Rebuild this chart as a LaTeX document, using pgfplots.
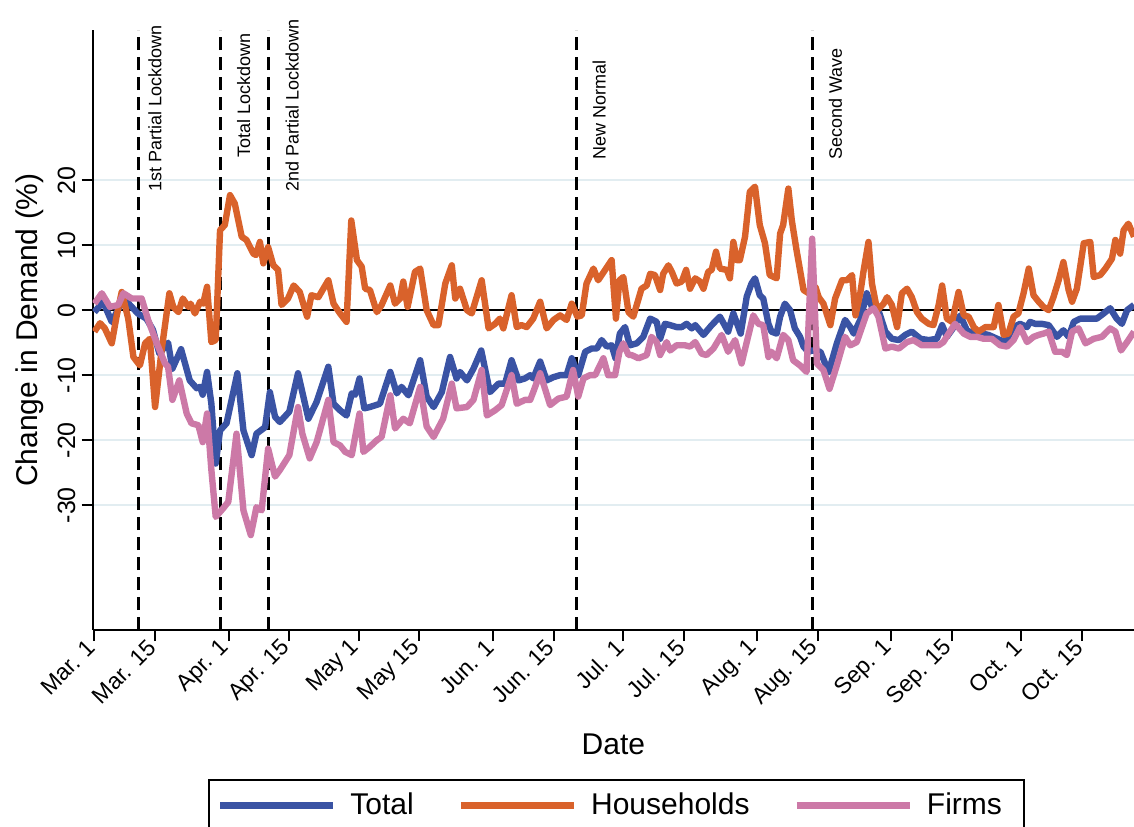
\documentclass[border=0pt]{standalone}
\usepackage{fontspec}
\setmainfont{Liberation Sans}
\usepackage{pgfplots}
\pgfplotsset{compat=1.18}
\definecolor{cTot}{RGB}{58,83,164}
\definecolor{cHH}{RGB}{217,98,43}
\definecolor{cFi}{RGB}{204,121,167}
\definecolor{cGrid}{RGB}{226,237,241}

\pgfplotstableread{
x y
0 -0.3
2 1.3
4 -1.8
6 0.8
7.5 1.3
10 -0.5
12 -1.3
13.5 -3
15 -6.7
17 -5
18 -9
20 -6
22 -10.8
23.6 -12
24.4 -11.8
25 -13
26 -9.5
27 -14.4
28 -23.6
29 -18.5
30.5 -17.4
33 -9.7
34.4 -18.5
36.3 -22.3
37.4 -19
39.4 -18
40.5 -12.6
41.7 -16.4
42.8 -17.2
45 -15.6
47 -9.7
49.4 -16.7
51.3 -14.1
54 -8.7
55.2 -14.4
56.7 -15.4
58.2 -16.2
59.4 -12.8
60.2 -13
61.2 -10.5
62.3 -15.1
63.6 -14.9
65.9 -14.4
68.3 -9.5
69.8 -12.8
70.9 -11.8
72.5 -13.1
75.2 -7.7
76.7 -13.3
78.3 -14.9
80.2 -12.6
82.1 -7.2
83.6 -10.5
84.4 -9.5
86 -10.8
87.5 -9
89.3 -6.2
91.3 -12.6
93.3 -11.3
94.8 -11.3
96.3 -7.7
97.9 -10.8
99.4 -10.5
100.6 -10
101.3 -10.5
102.9 -7.9
104.4 -10.8
106 -10.3
107.5 -10
109 -10
110.2 -7.4
111.7 -10
113.3 -6.4
114.8 -5.9
116 -5.9
117.1 -4.6
118.3 -5.6
119.4 -5.4
120.3 -7.4
121.3 -3.6
122.5 -2.6
123.6 -5.4
125.2 -5.1
126.7 -4.1
128.3 -1.3
129.8 -1.8
130.6 -4.4
131.7 -2.1
132.9 -2.3
134.4 -2.6
135.6 -2.6
136.7 -2.1
137.9 -2.8
138.7 -2.3
140.6 -3.8
142.5 -2.3
144.4 -1
146.3 -3.3
147.5 -0.5
149.2 -3.6
150.6 2.1
151.7 4.1
152.5 4.9
153.6 2.3
154.4 1.8
155.6 -2.1
156.3 -3.3
157.5 -3.6
158.3 -1
159.4 1
160.6 0
161.7 -2.8
162.9 -4.1
163.7 -5.6
164.8 -6.4
165.7 -6.2
167.6 -6.4
169.5 -9.5
171.4 -5.1
173.3 -1.5
174.5 -2.6
175.3 -3.6
176.8 -1.5
178.3 2.6
179.5 0.5
181.0 0
182.6 -3.3
184.1 -4.4
185.7 -4.6
187.2 -3.8
188.7 -3.3
190.7 -4.4
192.6 -4.6
194.5 -4.4
195.7 -2.3
196.8 -4.1
198.4 -2.6
199.9 -0.8
201.4 -3.1
203 -3.6
204.9 -3.6
206.4 -3.8
208.4 -4.4
210.3 -4.9
212.2 -2.6
213.7 -2.1
215.3 -2.6
216.0 -1.8
217.2 -2.1
218.7 -2.1
220.3 -2.3
222.2 -4.1
223.7 -3.1
224.9 -4.1
226.1 -1.8
227.6 -1.3
229.9 -1.3
231.4 -1.3
233 -0.5
234.5 0.3
236.0 -1.3
237.2 -2.1
238.4 0
240 0.8
}\totaltab

\pgfplotstableread{
x y
0 -3.3
1.3 -2
2.4 -2.8
4 -5.1
5.1 -1
6.3 2.8
7.8 -1.3
9 -7.2
10.5 -8.5
11.7 -5.1
12.8 -4.4
14 -14.9
15.5 -6.2
17.3 2.6
18.2 0.5
19.4 -0.3
20.4 1.8
21.7 0.5
22.2 1
23.2 -0.5
24.4 1.3
25.1 1
26 3.6
27 -4.9
28 -4.6
29 12.3
30.1 13.1
31.3 17.7
32.4 16.4
34 11.3
35.1 10.8
36.7 8.7
37.3 8.5
38.2 10.5
39 7.2
40.1 9.7
41.3 6.9
42.4 6.2
43.2 0.8
44.7 1.8
46 3.8
47.4 2.8
49.1 -1
50.1 2.3
51.7 2
54 4.6
55.2 1
56.7 -0.5
58.2 -1.8
59.3 13.8
60.6 7.7
61.7 6.7
62.5 3.3
63.6 3.1
65.2 -0.3
66.3 0.8
68.3 3.8
69.4 1
70.6 1.8
71.3 4.4
72.3 0.5
74 5.9
75.2 6.4
76.7 0
78.3 -2.3
79.4 -2.3
81 4.1
82.5 6.9
83.3 1.8
84.4 3.3
86 0
87.1 -0.5
89.4 4.6
91 -2.8
92.5 -2.1
93.6 -1.3
94.4 -2.8
96.3 2.3
97.5 -2.6
98.6 -2.3
99.8 -2.6
101.3 -1.3
102.9 1.3
104.4 -2.8
106 -1.5
107.5 -0.8
109 -1.5
110.2 1
111.5 -1
112.5 -0.8
113.6 4.1
115.2 6.4
116.3 4.6
117.9 6.2
119.4 7.7
120.4 -1.3
121.2 4.6
122.1 5.1
123.3 -0.3
124.4 -1
126.3 3.3
127.5 3.8
128.3 5.6
129.4 5.4
130.6 3.1
131.3 5.6
132.5 6.9
133.3 5.9
134.4 4.1
135.6 4.4
136.6 6.2
137.5 3.3
138.7 4.9
139.8 4.4
140.6 3.3
141.7 5.9
142.5 6.2
143.5 9
144.4 6.4
146 6.2
146.7 4.9
147.5 10.5
148.3 7.7
149 7.7
150.2 11.3
151.3 18.2
152.5 19
153.6 13.1
154.8 10.3
155.9 5.4
157.5 4.9
158.3 11.8
159 13.1
160.2 18.7
161 13.8
162.1 9.2
163.7 3.1
164.9 2.6
165.7 2.0
166.5 3.5
167.2 2
168.3 1
169.9 -2.3
171 1.8
172.6 4.6
173.7 4.6
174.9 5.4
175.7 -0.8
176.8 2.6
177.6 6.2
178.7 10.5
179.5 4.1
180.7 0
182.2 1
183 2
184.1 0.8
185.3 -2.6
186.4 2.6
187.6 3.3
188.7 2
189.9 -0.3
191 -1.3
192.6 -2.1
193.7 -2.3
194.9 0.8
195.7 3.8
196.8 -1.3
198 -1.8
199.5 2.8
200.7 -0.8
201.8 -1
203 -2.6
204.1 -3.3
205.7 -2.6
206.8 -2.6
207.6 -2.6
208.7 0.8
209.9 -3.8
211 -3.6
212.2 -1
213.3 -0.5
214.5 2.6
215.7 6.4
216.8 2.3
218 1.3
219.1 0.5
220.3 0
221.4 2
222.6 4.6
223.7 7.4
224.9 3.1
225.7 1.3
226.8 3.3
228.4 10.3
229.9 10.5
230.7 5.1
232.2 5.4
233.4 6.4
234.9 7.9
235.7 10.8
236.8 8.7
237.6 12.3
238.7 13.3
240 11.3
}\hhtab

\pgfplotstableread{
x y
0 1
1.7 2.6
3.6 0.5
5.5 0.8
6.7 2.6
8.6 1.8
10.9 1.8
12.4 -1.5
14.4 -5.1
16.3 -8.2
17 -8.7
18 -13.8
19.6 -10.8
21.3 -15.9
22.4 -17.4
24 -17.7
25 -20.3
26 -15.9
27 -24.6
28 -31.8
29.7 -30.5
30.9 -29.5
32.8 -19
34.4 -30.8
36.1 -34.6
37.4 -30.3
38.6 -30.8
40.1 -21.3
41.7 -25.6
42.8 -24.6
45 -22.3
47 -14.9
48 -19
49.7 -22.8
51.3 -20.3
54 -13.8
55.2 -20.3
56.7 -20.8
57.9 -21.8
59.4 -22.3
61.2 -15.9
62.1 -21.8
63.6 -21
65.2 -20
66.3 -19.5
68.3 -13.1
69.4 -18.2
71.3 -16.7
72.8 -17.4
75.2 -11.8
76.7 -17.9
78.3 -19.5
80.5 -16.7
82.5 -11.3
83.6 -15.1
86 -14.9
87.5 -13.8
89.4 -9.2
90.6 -16.2
92.5 -15.4
94 -14.6
96.3 -10
97.5 -14.4
99.4 -13.8
100.6 -13.8
101.3 -12.6
102.9 -9.7
105.2 -14.6
107.1 -13.6
109 -13.3
110.5 -9.2
111.7 -13.3
112.9 -10.5
114.4 -10
115.6 -10
117.5 -7.4
118.6 -10
120.2 -10
121.2 -6.4
122.1 -5.1
123.3 -6.9
124 -6.9
125.6 -7.4
127.5 -6.9
128.6 -4.1
129.8 -4.9
130.6 -6.9
132.1 -4.9
132.9 -6.2
134.4 -5.4
136.3 -5.4
137.5 -5.6
138.7 -4.9
140.2 -6.7
141.3 -6.9
142.9 -5.9
144.8 -3.8
146.3 -6.4
147.9 -4.6
149.4 -8.2
150.6 -4.9
152.1 -0.8
153.3 -2.1
154.4 -2.3
155.6 -7.2
156.3 -6.4
157.5 -7.4
159 -3.8
160.2 -4.6
161.3 -7.7
162.9 -8.5
164.4 -9.5
165.7 11
166.8 -8.2
168.3 -9.2
169.7 -12.1
171.4 -8.5
173.3 -4.1
174.5 -5.4
176 -4.9
178.3 -0.5
179.9 0.3
181 -1
182.6 -5.9
184.1 -5.6
185.7 -5.9
187.6 -4.9
189.1 -4.6
191 -5.4
193 -5.4
194.9 -5.4
196 -4.9
197.2 -3.6
198.7 -2.1
200.7 -3.6
202.2 -4.1
203.7 -4.1
205.3 -4.4
207.2 -4.4
209.1 -5.4
210.7 -5.6
212.2 -4.6
213.7 -2.6
215.3 -4.9
216.8 -4.1
218 -3.8
219.1 -3.6
220.3 -3.3
221.8 -6.4
223.4 -6.4
224.5 -6.9
225.7 -3.3
227.2 -2.8
228.8 -5.1
230.7 -4.4
232.6 -4.1
234.5 -2.8
235.7 -3.3
237 -6.2
238.4 -4.9
240 -3.3
}\firmtab

\begin{document}
\begin{tikzpicture}
\begin{axis}[
  scale only axis, width=520.65pt, height=300pt,
  xmin=-0.4, xmax=240, ymin=-49.2, ymax=43.1,
  clip mode=individual,
  axis lines=left,
  axis line style={-, line width=1pt, black},
  tick align=outside, major tick length=5.5pt,
  tick style={line width=1pt, black},
  xtick={0,14,31,45,61,75,92,106,122,136,153,167,184,198,214,228},
  xticklabels={Mar. 1, Mar. 15, Apr. 1, Apr. 15, May 1, May 15, Jun. 1, Jun. 15, Jul. 1, Jul. 15, Aug. 1, Aug. 15, Sep. 1, Sep. 15, Oct. 1, Oct. 15},
  ytick={-30,-20,-10,0,10,20},
  yticklabels={-30,-20,-10,0,10,20},
  ymajorgrids, grid style={cGrid, line width=1pt},
  ticklabel style={font=\fontsize{11.5}{13}\selectfont},
  xticklabel style={rotate=45, anchor=east, inner sep=2pt},
  yticklabel style={rotate=90, anchor=south, inner sep=3pt, font=\fontsize{12.5}{14}\selectfont},
  xlabel={Date},
  xlabel style={font=\fontsize{15}{18}\selectfont, at={(axis description cs:0.5,-0.19)}, anchor=center},
  ylabel={Change in Demand (\%)},
  ylabel style={font=\fontsize{15}{18}\selectfont, at={(axis description cs:-0.0602,0.5)}, anchor=center},
  legend columns=3,
  legend style={at={(axis description cs:0.1107,-0.2483)}, anchor=north west,
    draw=black, line width=1pt, inner xsep=4pt, inner ysep=3pt,
    font=\fontsize{15}{17}\selectfont,
    nodes={inner xsep=7pt, inner ysep=3.5pt},
    /tikz/every even column/.append style={column sep=15pt}},
  legend image code/.code={\draw[#1] (0pt,0pt) -- (56.5pt,0pt);},
  every axis plot/.append style={line width=3.2pt, line join=round},
]
\coordinate (sw) at (rel axis cs:0,0);
% event lines
\addplot[forget plot, black, line width=1.5pt, dash pattern=on 6.5pt off 3.5pt] coordinates {(10.07,-49.2) (10.07,43.1)};
\addplot[forget plot, black, line width=1.5pt, dash pattern=on 6.5pt off 3.5pt] coordinates {(29.0,-49.2) (29.0,43.1)};
\addplot[forget plot, black, line width=1.5pt, dash pattern=on 6.5pt off 3.5pt] coordinates {(40.2,-49.2) (40.2,43.1)};
\addplot[forget plot, black, line width=1.5pt, dash pattern=on 6.5pt off 3.5pt] coordinates {(111.4,-49.2) (111.4,43.1)};
\addplot[forget plot, black, line width=1.5pt, dash pattern=on 6.5pt off 3.5pt] coordinates {(165.7,-49.2) (165.7,43.1)};
% zero line
\addplot[forget plot, black, line width=1.2pt] coordinates {(-0.4,0) (240,0)};
% series
\addplot[cTot] table {\totaltab};
\addlegendentry{Total}
\addplot[cHH] table {\hhtab};
\addlegendentry{Households}
\addplot[cFi] table {\firmtab};
\addlegendentry{Firms}
% labels
\node[rotate=90, anchor=north west, inner sep=0pt, font=\fontsize{9}{10}\selectfont] at ([xshift=5pt]axis cs:10.07,18.15) {1st Partial Lockdown};
\node[rotate=90, anchor=north west, inner sep=0pt, font=\fontsize{9}{10}\selectfont] at ([xshift=8.3pt]axis cs:29.0,23.4) {Total Lockdown};
\node[rotate=90, anchor=north west, inner sep=0pt, font=\fontsize{9}{10}\selectfont] at ([xshift=8.3pt]axis cs:40.2,18.15) {2nd Partial Lockdown};
\node[rotate=90, anchor=north west, inner sep=0pt, font=\fontsize{9}{10}\selectfont] at ([xshift=7.6pt]axis cs:111.4,23.08) {New Normal};
\node[rotate=90, anchor=north west, inner sep=0pt, font=\fontsize{9}{10}\selectfont] at ([xshift=8.1pt]axis cs:165.7,23.08) {Second Wave};
\end{axis}
\pgfresetboundingbox
\path[use as bounding box] ([xshift=-46.35pt,yshift=-98pt]sw) rectangle ([xshift=520.65pt,yshift=315pt]sw);
\end{tikzpicture}
\end{document}
